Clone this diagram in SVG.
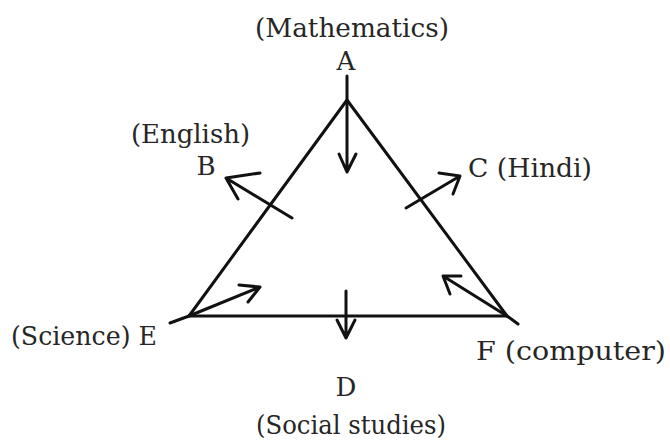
<svg xmlns="http://www.w3.org/2000/svg" width="670" height="444" viewBox="0 0 670 444">
<style>
.t{font-family:"DejaVu Serif","Liberation Serif",serif;font-size:26px;fill:#262626}
.l{stroke:#111;stroke-width:3;fill:none;stroke-linecap:round;stroke-linejoin:round}
</style>
<rect width="670" height="444" fill="#fff"/>
<g id="connectors">
<polyline class="l" points="170,323 189,316 347,100 507,316 518,324"/>
<line class="l" x1="189" y1="316" x2="507" y2="316"/>
<path class="l" d="M347,76 V172 M339,154 L347,172 L356,154"/>
<path class="l" d="M292,218 L226,178 M260,173 L226,178 L238,199"/>
<path class="l" d="M406,208 L460,176 M439,173 L460,176 L453,194"/>
<path class="l" d="M189,316 L260,287 M239,285 L260,287 L248,302"/>
<path class="l" d="M507,316 L443,276 M461,276 L443,276 L450,294"/>
<path class="l" d="M346,291 V338 M337,320 L346,338 L355,320"/>
</g>
<g id="A"><text class="t" x="255" y="37" textLength="194" lengthAdjust="spacingAndGlyphs">(Mathematics)</text><text class="t" x="346" y="70" text-anchor="middle">A</text></g>
<g id="B"><text class="t" x="131" y="143" textLength="119" lengthAdjust="spacingAndGlyphs">(English)</text><text class="t" x="206" y="175" text-anchor="middle">B</text></g>
<g id="C"><text class="t" x="468" y="177" textLength="124" lengthAdjust="spacingAndGlyphs">C (Hindi)</text></g>
<g id="E"><text class="t" x="11" y="345" textLength="146" lengthAdjust="spacingAndGlyphs">(Science) E</text></g>
<g id="F"><text class="t" x="476" y="360" textLength="190" lengthAdjust="spacingAndGlyphs">F (computer)</text></g>
<g id="D"><text class="t" x="346" y="396" text-anchor="middle">D</text><text class="t" x="256" y="434" textLength="190" lengthAdjust="spacingAndGlyphs">(Social studies)</text></g>
</svg>
